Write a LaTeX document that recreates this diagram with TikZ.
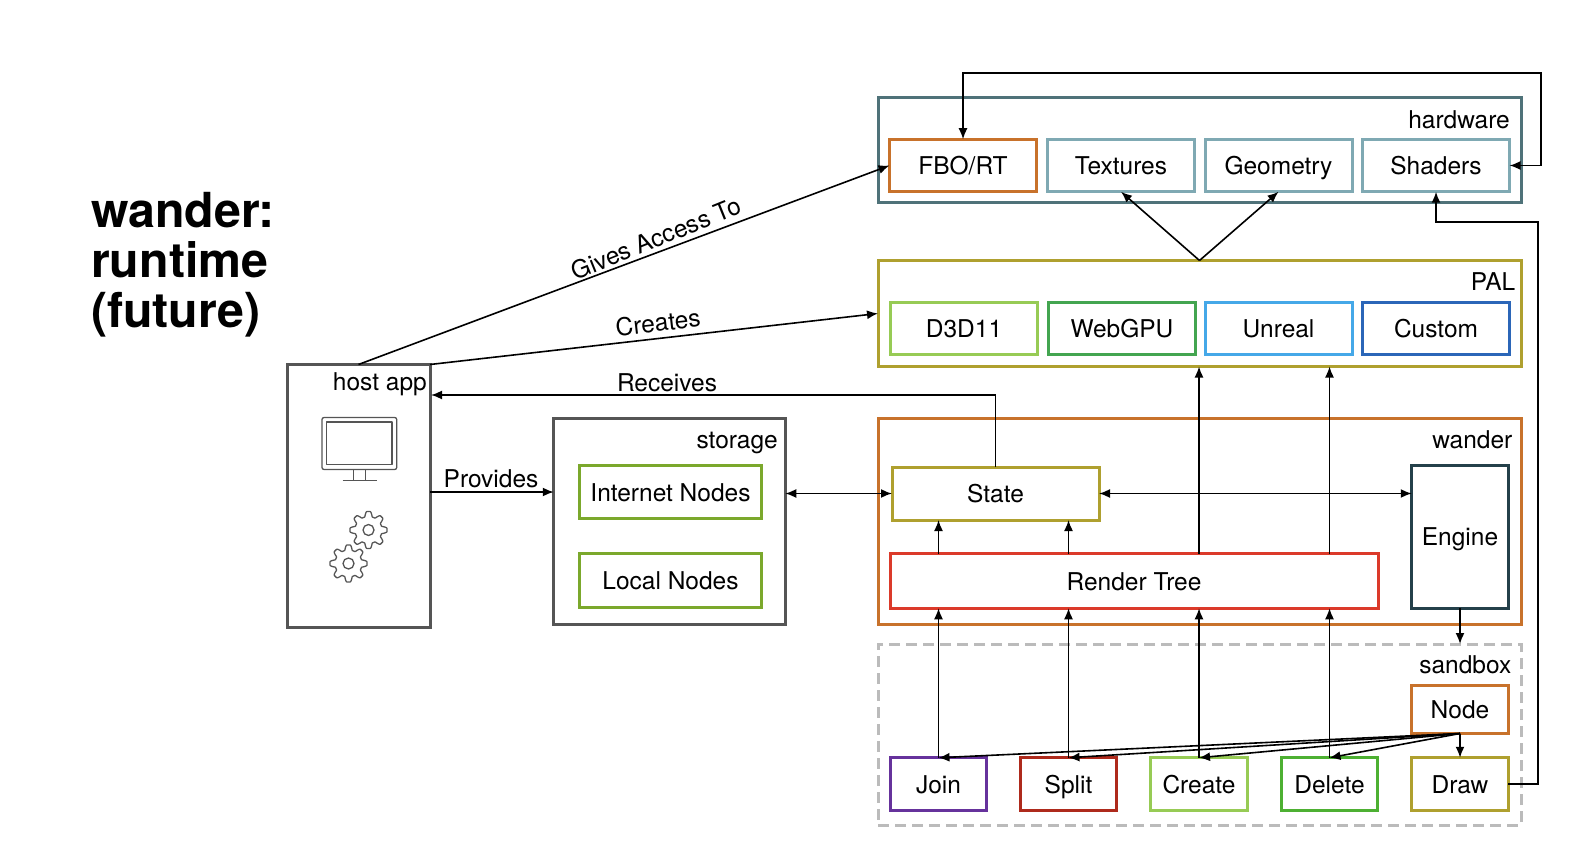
\documentclass[tikz,border=0pt]{standalone}
\usepackage{fontspec}
\setmainfont{TeX Gyre Heros}
\usetikzlibrary{arrows.meta}

\definecolor{hardwarecol}{HTML}{4F7279}
\definecolor{texcol}{HTML}{7FA9B3}
\definecolor{orangecol}{HTML}{C8722B}
\definecolor{olivecol}{HTML}{AFA02F}
\definecolor{lightgreencol}{HTML}{97CB55}
\definecolor{webgpucol}{HTML}{43A550}
\definecolor{unrealcol}{HTML}{45A8E8}
\definecolor{customcol}{HTML}{2B66B8}
\definecolor{hostcol}{HTML}{555555}
\definecolor{nodescol}{HTML}{7BA82C}
\definecolor{enginecol}{HTML}{24404A}
\definecolor{rendercol}{HTML}{DB3A2A}
\definecolor{sandboxcol}{HTML}{BBBBBB}
\definecolor{joincol}{HTML}{66329C}
\definecolor{splitcol}{HTML}{AE2A1C}
\definecolor{deletecol}{HTML}{4DB032}

\tikzset{
	labeltext/.style={inner sep=0pt,text height=22pt,text depth=3.5pt,font=\fontsize{24.5}{28}\selectfont},
	box/.style={draw=#1,line width=3pt,outer sep=0pt,labeltext},
	wide/.style={box=#1,minimum width=147pt,minimum height=52.5pt},
	small/.style={box=#1,minimum width=96.5pt,minimum height=52.5pt},
	group/.style={draw=#1,line width=3pt,outer sep=0pt,inner sep=0pt},
	tag/.style={anchor=east,labeltext},
	says/.style={labeltext},
	link/.style={line width=1.6pt,-{Latex[length=11pt,width=9pt]}},
	both/.style={line width=1.6pt,{Latex[length=11pt,width=9pt]}-{Latex[length=11pt,width=9pt]}},
	icon/.style={draw=hostcol,line width=1.3pt,line join=round}
}

\newcommand{\gearicon}[2]{
	\draw[icon] plot[domain=0:360,samples=193] ({#1+(16+2.5*max(-1,min(1,1.6*cos(8*\x))))*cos(\x)},{#2+(16+2.5*max(-1,min(1,1.6*cos(8*\x))))*sin(\x)}) -- cycle;
	\draw[icon] (#1,#2) circle (5.5);
}

\begin{document}
\begin{tikzpicture}[x=1pt,y=-1pt]
	\useasboundingbox (0,0) rectangle (1595,858);

	\node[inner sep=0pt,anchor=west,align=left,font=\fontsize{48.3}{50}\selectfont\bfseries] (title) at (91,265) {wander:\\runtime\\(future)};

	\node[group=hardwarecol] (hardware) at (1199.5,150) [minimum width=643pt,minimum height=105pt] {};
	\node[tag] (hardwaretag) at (1510,119) {hardware};
	\node[wide=orangecol] (fbo) at (963,165.5) {FBO/RT};
	\node[wide=texcol] (textures) at (1121,165.5) {Textures};
	\node[wide=texcol] (geometry) at (1278.5,165.5) {Geometry};
	\node[wide=texcol] (shaders) at (1436,165.5) {Shaders};

	\node[group=olivecol] (pal) at (1199.5,313.5) [minimum width=643pt,minimum height=106pt] {};
	\node[tag] (paltag) at (1515.5,281) {PAL};
	\node[wide=lightgreencol] (d3d) at (964,328.5) {D3D11};
	\node[wide=webgpucol] (webgpu) at (1122,328.5) {WebGPU};
	\node[wide=unrealcol] (unreal) at (1278.5,328.5) {Unreal};
	\node[wide=customcol] (custom) at (1436,328.5) {Custom};

	\node[group=hostcol] (host) at (358.5,496) [minimum width=143pt,minimum height=263pt] {};
	\node[tag] (hosttag) at (427,381.5) {host app};

	\draw[icon,rounded corners=2pt] (322,417.5) rectangle (396.7,469.5);
	\draw[icon] (326.7,422) rectangle (392,464.5);
	\draw[icon] (353.3,469.5) -- (353.3,480.5);
	\draw[icon] (365.3,469.5) -- (365.3,480.5);
	\draw[icon] (342.7,480.5) -- (376.7,480.5);
	\gearicon{368.5}{530}
	\gearicon{348.5}{563.5}

	\node[group=hostcol] (storage) at (669.5,521.5) [minimum width=231.5pt,minimum height=206.5pt] {};
	\node[tag] (storagetag) at (778,439.5) {storage};
	\node[box=nodescol] (internet) at (670.5,492) [minimum width=181.5pt,minimum height=53.5pt] {Internet Nodes};
	\node[box=nodescol] (local) at (670.5,580.5) [minimum width=181.5pt,minimum height=53.5pt] {Local Nodes};

	\node[group=orangecol] (wander) at (1199.5,521.5) [minimum width=643pt,minimum height=206.5pt] {};
	\node[tag] (wandertag) at (1512.5,439) {wander};
	\node[box=olivecol] (state) at (995.5,493.5) [minimum width=207pt,minimum height=53pt] {State};
	\node[box=enginecol] (engine) at (1460,536.5) [minimum width=96.5pt,minimum height=143pt] {Engine};
	\node[box=rendercol] (render) at (1134,581) [minimum width=488pt,minimum height=54.5pt] {Render Tree};

	\node[draw=sandboxcol,line width=3pt,dash pattern=on 11pt off 6pt,outer sep=0pt,inner sep=0pt] (sandbox) at (1199.5,734.5) [minimum width=643pt,minimum height=181pt] {};
	\node[tag] (sandboxtag) at (1511.5,664) {sandbox};
	\node[box=orangecol] (nodebox) at (1460,709.5) [minimum width=96.5pt,minimum height=48pt] {Node};
	\node[small=joincol] (join) at (938.5,784) {Join};
	\node[small=splitcol] (split) at (1068.5,784) {Split};
	\node[small=lightgreencol] (create) at (1199,784) {Create};
	\node[small=deletecol] (delete) at (1329.5,784) {Delete};
	\node[small=olivecol] (drawbox) at (1460,784) {Draw};

	\coordinate (topturn) at (1541,73);
	\coordinate (backturn) at (1538,222);
	\coordinate (receivept) at (431,395);

	\draw[both] (fbo.north) |- (topturn) |- (shaders.east);
	\draw[link] (drawbox.east) -| (backturn) -| (shaders.south);
	\draw[link] (pal.north) -- (textures.south);
	\draw[link] (pal.north) -- (geometry.south);

	\draw[link] (host.north) -- (fbo.west);
	\draw[link] (host.north east) -- (pal.west);
	\draw[link] (state.north) |- (receivept);
	\draw[link] (host.east |- internet.west) -- (storage.west |- internet.west);
	\draw[both] (storage.east |- state.west) -- (state.west);
	\draw[both] (state.east) -- (engine.west |- state.east);

	\node[says,rotate=22] (givestext) at (656,238) {Gives Access To};
	\node[says,rotate=6.5] (createstext) at (658,322) {Creates};
	\node[says] (receivestext) at (667,382) {Receives};
	\node[says] (providestext) at (491,478) {Provides};

	\draw[link] (render.north -| join.north) -- (state.south -| join.north);
	\draw[link] (render.north -| split.north) -- (state.south -| split.north);
	\draw[link] (render.north -| create.north) -- (pal.south -| create.north);
	\draw[link] (render.north -| delete.north) -- (pal.south -| delete.north);
	\draw[link] (engine.south) -- (sandbox.north -| engine.south);

	\draw[link] (join.north) -- (render.south -| join.north);
	\draw[link] (split.north) -- (render.south -| split.north);
	\draw[link] (create.north) -- (render.south -| create.north);
	\draw[link] (delete.north) -- (render.south -| delete.north);

	\draw[link] (nodebox.south) -- (join.north);
	\draw[link] (nodebox.south) -- (split.north);
	\draw[link] (nodebox.south) -- (create.north);
	\draw[link] (nodebox.south) -- (delete.north);
	\draw[link] (nodebox.south) -- (drawbox.north);
\end{tikzpicture}
\end{document}
